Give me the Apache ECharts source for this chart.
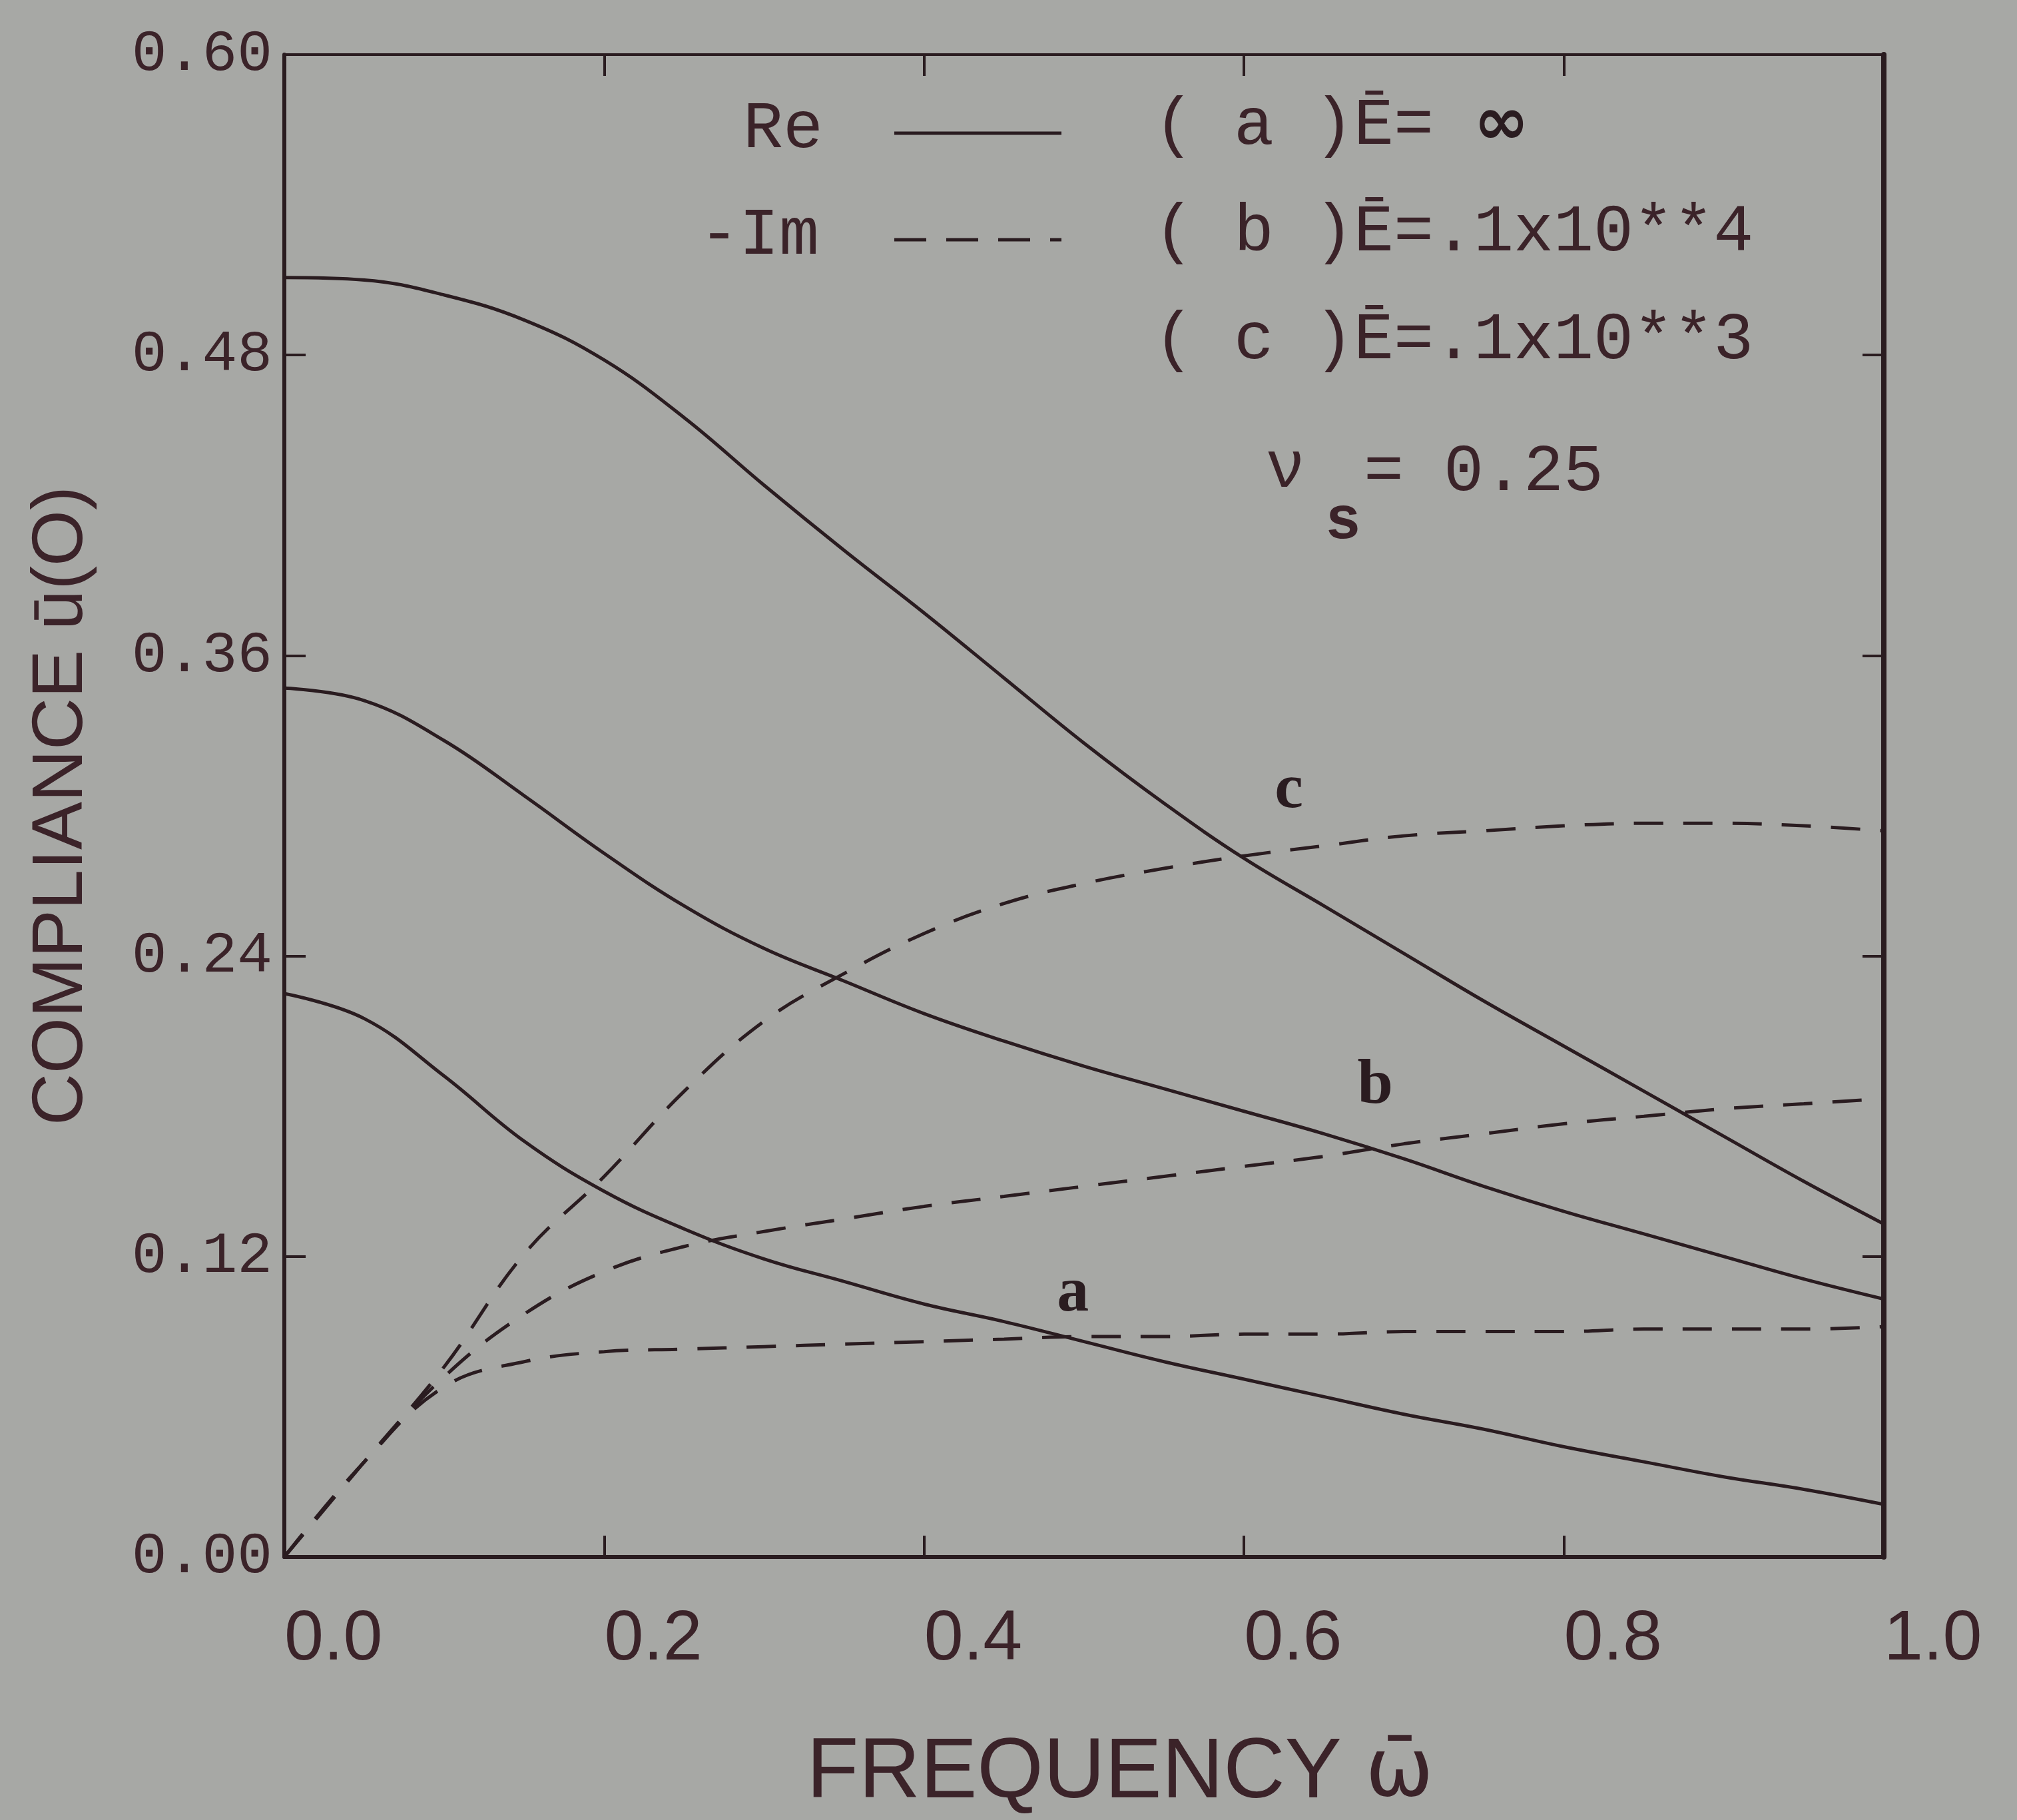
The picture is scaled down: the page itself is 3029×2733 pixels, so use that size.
<!DOCTYPE html>
<html>
<head>
<meta charset="utf-8">
<title>Compliance vs frequency</title>
<script src="https://cdn.jsdelivr.net/npm/echarts@6/dist/echarts.min.js"></script>
<style>
  html, body { margin: 0; padding: 0; background: #a7a8a5; }
  #chart { width: 3029px; height: 2733px; }
</style>
</head>
<body>
<div id="chart"></div>
<script>
// frequency (omega bar) sample points
var freq = [0, 0.05, 0.1, 0.15, 0.2, 0.25, 0.3, 0.35, 0.4, 0.45, 0.5,
            0.55, 0.6, 0.65, 0.7, 0.75, 0.8, 0.85, 0.9, 0.95, 1.0];

// Re part (solid)
var reA = [0.225, 0.215, 0.192, 0.166, 0.146, 0.131, 0.119, 0.110, 0.101, 0.094, 0.086,
           0.078, 0.071, 0.064, 0.057, 0.051, 0.044, 0.038, 0.032, 0.027, 0.021];
var reB = [0.347, 0.342, 0.326, 0.304, 0.281, 0.260, 0.243, 0.230, 0.217, 0.206, 0.196,
           0.187, 0.178, 0.169, 0.159, 0.148, 0.138, 0.129, 0.120, 0.111, 0.103];
var reC = [0.511, 0.510, 0.504, 0.494, 0.478, 0.455, 0.428, 0.402, 0.377, 0.351, 0.325,
           0.301, 0.279, 0.260, 0.241, 0.222, 0.204, 0.186, 0.168, 0.150, 0.133];

// -Im part (dashed)
var imA = [0, 0.038, 0.068, 0.078, 0.082, 0.083, 0.084, 0.085, 0.086, 0.087, 0.088,
           0.088, 0.089, 0.089, 0.090, 0.090, 0.090, 0.091, 0.091, 0.091, 0.092];
var imB = [0, 0.038, 0.072, 0.097, 0.114, 0.124, 0.130, 0.135, 0.140, 0.144, 0.148,
           0.152, 0.156, 0.160, 0.165, 0.169, 0.173, 0.176, 0.179, 0.181, 0.183];
var imC = [0, 0.038, 0.076, 0.121, 0.152, 0.186, 0.214, 0.233, 0.249, 0.261, 0.269,
           0.275, 0.280, 0.284, 0.288, 0.290, 0.292, 0.293, 0.293, 0.292, 0.290];

// curve tags (a, b, c) placed in data units
var tags = [
    { name: 'c', coord: [0.628, 0.306] },
    { name: 'b', coord: [0.682, 0.188] },
    { name: 'a', coord: [0.493, 0.105] }
];

var ink = '#2a1c20';
var textInk = '#3b2329';

function pairs(ys) {
    return freq.map(function (f, i) { return [f, ys[i]]; });
}

function curve(name, ys, dashed, tag) {
    var s = {
        name: name,
        type: 'line',
        data: pairs(ys),
        symbol: 'none',
        smooth: 0.4,
        lineStyle: { color: ink, width: 5, type: dashed ? [44, 30] : 'solid' },
        z: 3
    };
    if (tag) {
        s.markPoint = {
            symbol: 'circle',
            symbolSize: 0,
            data: [{ coord: tag.coord, value: tag.name }],
            label: {
                show: true,
                formatter: tag.name,
                color: ink,
                fontFamily: 'Liberation Serif',
                fontWeight: 'bold',
                fontSize: 96
            }
        };
    }
    return s;
}

function frameLine(w) {
    return { show: true, onZero: false, lineStyle: { color: ink, width: w } };
}
var frameTick = { show: true, inside: true, length: 32, lineStyle: { color: ink, width: 4 } };

var chart = echarts.init(document.getElementById('chart'));

var option = {
    backgroundColor: '#a7a8a5',
    animation: false,
    grid: { left: 427, right: 200, top: 82, bottom: 395, containLabel: false },
    xAxis: [{
        type: 'value',
        position: 'bottom',
        min: 0, max: 1, interval: 0.2,
        axisLine: frameLine(6),
        axisTick: frameTick,
        splitLine: { show: false },
        axisLabel: {
            align: 'left',
            margin: 72,
            color: textInk,
            fontFamily: 'Liberation Sans',
            fontSize: 106,
            formatter: function (v) { return v.toFixed(1); }
        },
        name: 'FREQUENCY {w|\u03C9\u0304}',
        nameLocation: 'middle',
        nameGap: 262,
        nameTextStyle: {
            color: textInk,
            fontFamily: 'Liberation Sans',
            fontSize: 128,
            padding: [0, 0, 0, 108],
            rich: {
                w: { color: textInk, fontFamily: 'DejaVu Sans', fontSize: 122 }
            }
        }
    }, {
        type: 'value',
        position: 'top',
        min: 0, max: 1, interval: 0.2,
        axisLine: frameLine(4),
        axisTick: frameTick,
        axisLabel: { show: false },
        splitLine: { show: false }
    }],
    yAxis: [{
        type: 'value',
        position: 'left',
        min: 0, max: 0.6, interval: 0.12,
        axisLine: frameLine(6),
        axisTick: frameTick,
        splitLine: { show: false },
        axisLabel: {
            margin: 18,
            color: textInk,
            fontFamily: 'Liberation Mono',
            fontSize: 88,
            formatter: function (v) { return v.toFixed(2); }
        },
        name: 'COMPLIANCE \u016B(O)',
        nameLocation: 'middle',
        nameGap: 280,
        nameTextStyle: {
            color: textInk,
            fontFamily: 'Liberation Sans',
            fontSize: 108
        }
    }, {
        type: 'value',
        position: 'right',
        min: 0, max: 0.6, interval: 0.12,
        axisLine: frameLine(8),
        axisTick: frameTick,
        axisLabel: { show: false },
        splitLine: { show: false }
    }],
    series: [
        curve('Re a', reA, false),
        curve('Re b', reB, false),
        curve('Re c', reC, false),
        curve('-Im a', imA, true, tags[2]),
        curve('-Im b', imB, true, tags[1]),
        curve('-Im c', imC, true, tags[0])
    ],
    graphic: [
        // key: Re / -Im line samples
        { type: 'text', left: 1116, top: 145,
          style: { text: 'Re', fill: textInk, font: '100px "Liberation Mono"' } },
        { type: 'line', shape: { x1: 1343, y1: 200, x2: 1594, y2: 200 },
          style: { stroke: ink, lineWidth: 5 } },
        { type: 'text', left: 1050, top: 305,
          style: { text: '-Im', fill: textInk, font: '100px "Liberation Mono"' } },
        { type: 'line', shape: { x1: 1343, y1: 360, x2: 1594, y2: 360 },
          style: { stroke: ink, lineWidth: 5, lineDash: [48, 30] } },
        // parameter list
        { type: 'text', left: 1733, top: 140,
          style: {
              text: '( a )\u0112= {inf|\u221E}',
              fill: textInk,
              font: '100px "Liberation Mono"',
              rich: { inf: { fontSize: 100, fontWeight: 'bold', fill: ink, fontFamily: 'DejaVu Sans' } }
          } },
        { type: 'text', left: 1733, top: 300,
          style: { text: '( b )\u0112=.1x10**4', fill: textInk, font: '100px "Liberation Mono"' } },
        { type: 'text', left: 1733, top: 462,
          style: { text: '( c )\u0112=.1x10**3', fill: textInk, font: '100px "Liberation Mono"' } },
        // Poisson ratio
        { type: 'text', left: 1900, top: 655,
          style: { text: '\u03BD', fill: textInk, font: '100px "Liberation Mono"' } },
        { type: 'text', left: 1990, top: 740,
          style: { text: 's', fill: textInk, font: 'bold 90px "Liberation Mono"' } },
        { type: 'text', left: 2048, top: 660,
          style: { text: '= 0.25', fill: textInk, font: '100px "Liberation Mono"' } }
    ]
};

chart.setOption(option);
</script>
</body>
</html>
